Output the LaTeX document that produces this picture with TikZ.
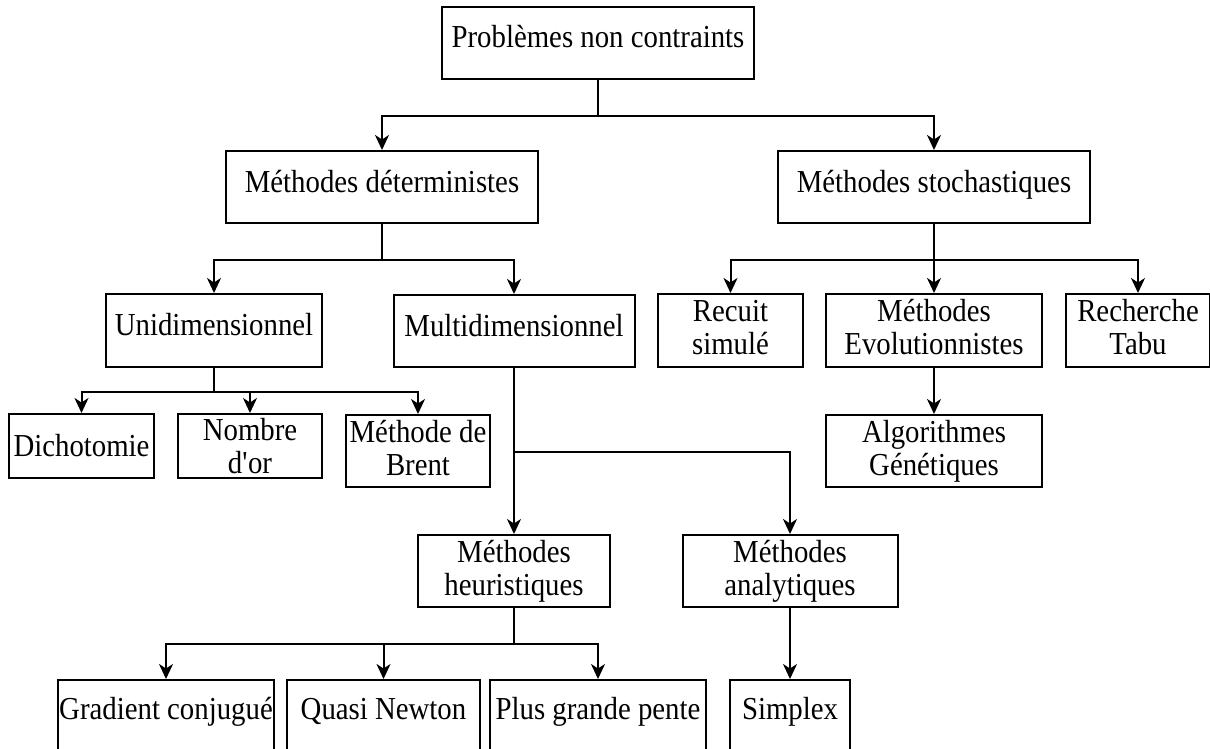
\documentclass[tikz,border=0pt]{standalone}
\usepackage{fontspec}
\setmainfont{Liberation Serif}[FakeStretch=0.9]
\usetikzlibrary{arrows.meta}
\tikzset{
  box/.style={draw, line width=2pt, inner sep=0pt, align=center,
    font=\fontsize{32}{33}\selectfont, text height=22pt, text depth=12pt},
  twoline/.style={text height=, text depth=7pt},
  bottombox/.style={box, anchor=north, text height=39pt, text depth=40pt},
  conn/.style={line width=2pt, -{Stealth[length=15pt,width=14pt,inset=4.5pt]}},
}
\begin{document}
\begin{tikzpicture}[x=1pt,y=-1pt]
\useasboundingbox (0,0) rectangle (1210,749);
% level 0
\node[box, minimum width=312pt, minimum height=72pt] (root) at (598,43) {Problèmes non contraints};
% level 1
\node[box, minimum width=312pt, minimum height=72pt] (det) at (382,187) {Méthodes déterministes};
\node[box, minimum width=312pt, minimum height=72pt] (sto) at (934,187) {Méthodes stochastiques};
% level 2
\node[box, minimum width=216pt, minimum height=73pt] (uni) at (214,330.5) {Unidimensionnel};
\node[box, minimum width=241pt, minimum height=72pt] (mul) at (514,331) {Multidimensionnel};
\node[box, twoline, minimum width=145pt, minimum height=73pt] (rec) at (730.5,330.5) {Recuit\\simulé};
\node[box, twoline, minimum width=216pt, minimum height=73pt] (evo) at (934,330.5) {Méthodes\\Evolutionnistes};
\node[box, twoline, minimum width=144pt, minimum height=73pt] (tab) at (1138,330.5) {Recherche\\Tabu};
% level 3
\node[box, text height=22pt, text depth=2pt, minimum width=145pt, minimum height=64pt] (dic) at (81.5,446) {Dichotomie};
\node[box, text height=, text depth=, minimum width=144pt, minimum height=64pt] (nom) at (250,446) {Nombre\\d\textquotesingle or};
\node[box, twoline, minimum width=144pt, minimum height=72pt] (bre) at (418,451) {Méthode de\\Brent};
\node[box, twoline, minimum width=216pt, minimum height=72pt] (alg) at (934,451) {Algorithmes\\Génétiques};
% level 4
\node[box, twoline, minimum width=192pt, minimum height=72pt] (heu) at (514,571) {Méthodes\\heuristiques};
\node[box, twoline, minimum width=215pt, minimum height=72pt] (ana) at (790,571) {Méthodes\\analytiques};
% level 5
\node[bottombox, minimum width=216pt] (gra) at (166,679) {Gradient conjugué};
\node[bottombox, minimum width=193pt] (qua) at (383.5,679) {Quasi Newton};
\node[bottombox, minimum width=216pt] (plu) at (598,679) {Plus grande pente};
\node[bottombox, minimum width=120pt] (sim) at (790,679) {Simplex};
% connectors
\draw[conn] (root.south) -- ++(0,36) -| (det.north);
\draw[conn] (root.south) -- ++(0,36) -| (sto.north);
\draw[conn] (det.south) -- ++(0,36) -| (uni.north);
\draw[conn] (det.south) -- ++(0,36) -| (mul.north);
\draw[conn] (sto.south) -- ++(0,36) -| (rec.north);
\draw[conn] (sto.south) -- (evo.north);
\draw[conn] (sto.south) -- ++(0,36) -| (tab.north);
\draw[conn] (uni.south) -- ++(0,24) -| (dic.north);
\draw[conn] (uni.south) -- ++(0,24) -| (nom.north);
\draw[conn] (uni.south) -- ++(0,24) -| (bre.north);
\draw[conn] (evo.south) -- (alg.north);
\draw[conn] (mul.south) -- (heu.north);
\draw[conn] (mul.south) -- ++(0,84) -| (ana.north);
\draw[conn] (heu.south) -- ++(0,36) -| (gra.north);
\draw[conn] (heu.south) -- ++(0,36) -| (qua.north);
\draw[conn] (heu.south) -- ++(0,36) -| (plu.north);
\draw[conn] (ana.south) -- (sim.north);
\end{tikzpicture}
\end{document}
